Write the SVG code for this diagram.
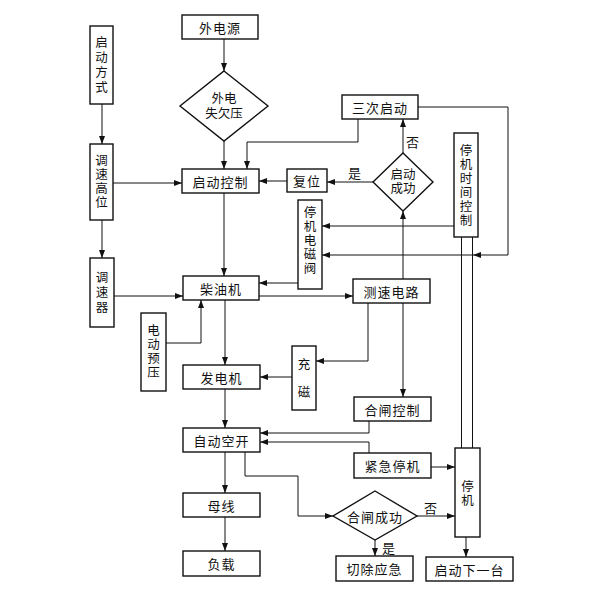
<svg xmlns="http://www.w3.org/2000/svg" width="600" height="600" viewBox="0 0 600 600">
<defs>
<marker id="arr" viewBox="0 0 8 6" refX="8" refY="3" markerWidth="8" markerHeight="6" markerUnits="userSpaceOnUse" orient="auto">
<path d="M0,0 L8,3 L0,6 z" fill="#111"/>
</marker>
<style>
.b{fill:#fff;stroke:#111;stroke-width:1.4}
.t{font-family:"Noto Sans CJK SC","Noto Sans",sans-serif;font-size:13px;fill:#111;text-anchor:middle;dominant-baseline:central;letter-spacing:1px}
.v{font-family:"Liberation Sans","Noto Sans CJK SC",sans-serif;font-size:12.5px;fill:#111;text-anchor:middle;dominant-baseline:central}
.c path{fill:none;stroke:#111;stroke-width:1}
.c .a{marker-end:url(#arr)}
</style>
</defs>
<rect width="600" height="600" fill="#fff"/>
<g class="c" id="connectors">
<path class="a" d="M224,39 V71"/>
<path class="a" d="M224,141 V169"/>
<path class="a" d="M358,119 V142 H247 V169"/>
<path class="a" d="M403,153 V119"/>
<path class="a" d="M373,182 H327"/>
<path class="a" d="M287,181 H259"/>
<path class="a" d="M102,104 V144"/>
<path class="a" d="M113,183 H182"/>
<path class="a" d="M102,220 V258"/>
<path class="a" d="M114,296 H183"/>
<path class="a" d="M224,193 V276"/>
<path class="a" d="M166,343 H201 V300"/>
<path class="a" d="M298,283 H259"/>
<path class="a" d="M259,296 H353"/>
<path class="a" d="M454,226 H322"/>
<path class="a" d="M418,107 H508 V255 H473"/>
<path class="a" d="M472,255 H322"/>
<path d="M461.5,237 V448"/>
<path d="M472.5,237 V448"/>
<path class="a" d="M403,279 V211"/>
<path class="a" d="M403,303 V397"/>
<path class="a" d="M368,303 V361 H316"/>
<path class="a" d="M292,377 H260"/>
<path class="a" d="M225,300 V365"/>
<path class="a" d="M225,389 V428"/>
<path class="a" d="M369,421 V433 H260"/>
<path class="a" d="M369,453 V442 H260"/>
<path class="a" d="M431,467 H455"/>
<path class="a" d="M245,452 V476 H298 V516 H333"/>
<path class="a" d="M417,516 H455"/>
<path class="a" d="M375,540 V556"/>
<path class="a" d="M466,537 V557"/>
<path class="a" d="M225,452 V493"/>
<path class="a" d="M225,517 V551"/>
</g>
<g id="n_waidianyuan"><rect class="b" x="182" y="15" width="76" height="24"/><text class="t" x="220" y="27">外电源</text></g>
<g id="n_shiqianya"><polygon class="b" points="224,71 268,106 224,141 180,106"/><text class="v"><tspan x="224" y="98.5">外电</tspan><tspan x="224" y="114">失欠压</tspan></text></g>
<g id="n_qidongfangshi"><rect class="b" x="90" y="26" width="23" height="78"/><text class="v"><tspan x="101.5" y="42.5">启</tspan><tspan x="101.5" y="57.5">动</tspan><tspan x="101.5" y="72.5">方</tspan><tspan x="101.5" y="87.5">式</tspan></text></g>
<g id="n_tiaosugaowei"><rect class="b" x="90" y="144" width="23" height="76"/><text class="v"><tspan x="101.5" y="161">调</tspan><tspan x="101.5" y="175">速</tspan><tspan x="101.5" y="189">高</tspan><tspan x="101.5" y="203">位</tspan></text></g>
<g id="n_tiaosuqi"><rect class="b" x="90" y="258" width="24" height="69"/><text class="v"><tspan x="102" y="277.5">调</tspan><tspan x="102" y="292.5">速</tspan><tspan x="102" y="307.5">器</tspan></text></g>
<g id="n_diandongyuya"><rect class="b" x="141" y="313" width="25" height="78"/><text class="v"><tspan x="153.5" y="331">电</tspan><tspan x="153.5" y="345">动</tspan><tspan x="153.5" y="359">预</tspan><tspan x="153.5" y="373">压</tspan></text></g>
<g id="n_qidongkongzhi"><rect class="b" x="182" y="169" width="77" height="24"/><text class="t" x="220.5" y="181">启动控制</text></g>
<g id="n_sanciqidong"><rect class="b" x="342" y="95" width="76" height="24"/><text class="t" x="380" y="107">三次启动</text></g>
<g id="n_fuwei"><rect class="b" x="287" y="169" width="40" height="23"/><text class="t" x="307" y="180.5">复位</text></g>
<g id="n_qidongchenggong"><polygon class="b" points="403,153 433,182 403,211 373,182"/><text class="v"><tspan x="403" y="175">启动</tspan><tspan x="403" y="189">成功</tspan></text></g>
<text class="t" x="413" y="141">否</text>
<text class="t" x="355" y="172">是</text>
<g id="n_tingjishijian"><rect class="b" x="454" y="133" width="24" height="104"/><text class="v"><tspan x="466" y="151">停</tspan><tspan x="466" y="165">机</tspan><tspan x="466" y="179">时</tspan><tspan x="466" y="193">间</tspan><tspan x="466" y="207">控</tspan><tspan x="466" y="221">制</tspan></text></g>
<g id="n_tingjidiancifa"><rect class="b" x="298" y="200" width="24" height="89"/><text class="v"><tspan x="310" y="213">停</tspan><tspan x="310" y="227">机</tspan><tspan x="310" y="241">电</tspan><tspan x="310" y="255">磁</tspan><tspan x="310" y="269">阀</tspan></text></g>
<g id="n_chaiyouji"><rect class="b" x="183" y="276" width="76" height="24"/><text class="t" x="221" y="288">柴油机</text></g>
<g id="n_cesudianlu"><rect class="b" x="353" y="279" width="77" height="24"/><text class="t" x="391.5" y="291">测速电路</text></g>
<g id="n_chongci"><rect class="b" x="292" y="346" width="24" height="64"/><text class="v"><tspan x="304" y="365">充</tspan><tspan x="304" y="393">磁</tspan></text></g>
<g id="n_fadianji"><rect class="b" x="183" y="365" width="77" height="24"/><text class="t" x="221.5" y="377">发电机</text></g>
<g id="n_hezhakongzhi"><rect class="b" x="354" y="397" width="77" height="24"/><text class="t" x="392.5" y="409">合闸控制</text></g>
<g id="n_zidongkongkai"><rect class="b" x="183" y="428" width="77" height="24"/><text class="t" x="221.5" y="440">自动空开</text></g>
<g id="n_jinjitingji"><rect class="b" x="354" y="453" width="77" height="25"/><text class="t" x="392.5" y="465.5">紧急停机</text></g>
<g id="n_tingji"><rect class="b" x="455" y="448" width="25" height="89"/><text class="v"><tspan x="467.5" y="486.5">停</tspan><tspan x="467.5" y="500.5">机</tspan></text></g>
<g id="n_hezhachenggong"><polygon class="b" points="375,491 417,516 375,540 333,516"/><text class="t" x="375" y="516">合闸成功</text></g>
<text class="t" x="431" y="507">否</text>
<text class="t" x="389" y="547">是</text>
<g id="n_muxian"><rect class="b" x="183" y="493" width="77" height="24"/><text class="t" x="221.5" y="505">母线</text></g>
<g id="n_fuzai"><rect class="b" x="183" y="551" width="77" height="25"/><text class="t" x="221.5" y="563.5">负载</text></g>
<g id="n_qiechuyingji"><rect class="b" x="336" y="556" width="77" height="25"/><text class="t" x="374.5" y="568.5">切除应急</text></g>
<g id="n_qidongxiayitai"><rect class="b" x="426" y="557" width="87" height="24"/><text class="t" x="469.5" y="569">启动下一台</text></g>
</svg>
